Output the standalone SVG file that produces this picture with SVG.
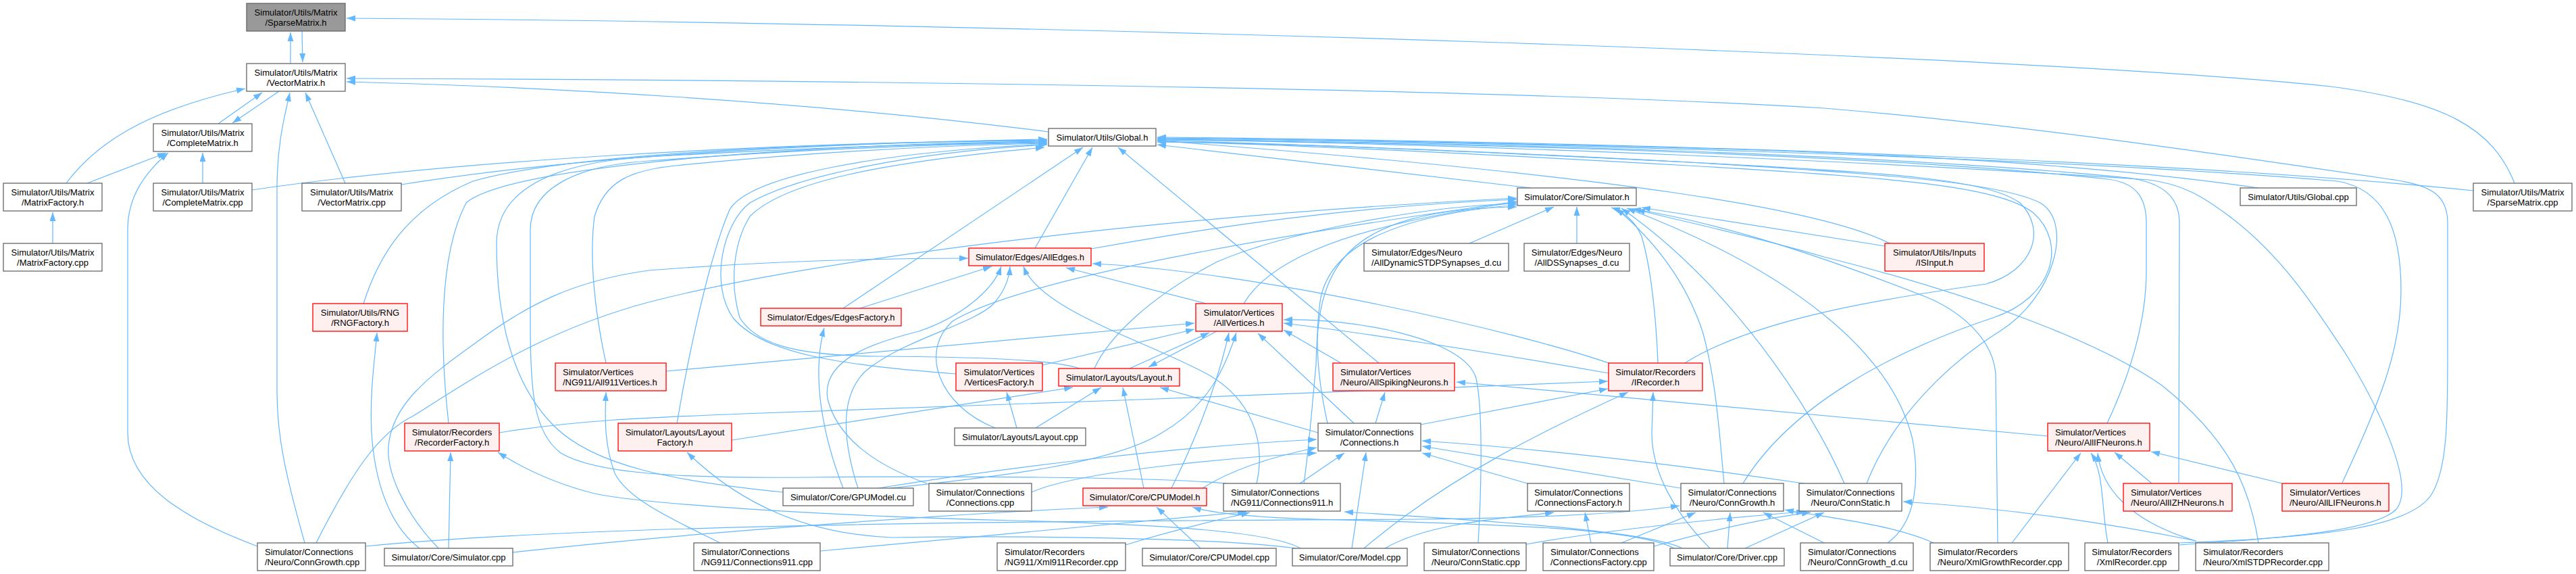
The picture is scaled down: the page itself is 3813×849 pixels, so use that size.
<svg xmlns="http://www.w3.org/2000/svg" width="3813" height="849" viewBox="0 0 3813 849">
<style>
rect{stroke-width:1.3}
.w rect{fill:#fff;stroke:#666}
.r rect{fill:#fff0f0;stroke:#ff0000}
.g rect{fill:#999999;stroke:#666}
text{font-family:"Liberation Sans",Arial,Helvetica,sans-serif;font-size:13px;fill:#000}
.c{text-anchor:middle}
#edges path{fill:none;stroke:#63b8ff;stroke-width:1.2;marker-end:url(#a)}
</style>
<defs>
<marker id="a" viewBox="0 0 13 9" refX="13" refY="4.5" markerWidth="13" markerHeight="9" markerUnits="userSpaceOnUse" orient="auto"><path d="M0,0 L13,4.5 L0,9 z" fill="#63b8ff"/></marker>
</defs>
<rect width="3813" height="849" fill="#fff"/>
<g id="edges">
<path d="M430,94 L430,48"/>
<path d="M447,46 L448,92"/>
<path d="M323,183 L388,137"/>
<path d="M413,135 L344,182"/>
<path d="M98,271 C140,215 210,165 363,131"/>
<path d="M129,271 L246,226"/>
<path d="M300,271 L300,226"/>
<path d="M511,271 L452,137"/>
<path d="M78,360 L78,314"/>
<path d="M381,808 C280,770 189,720 189,640 L189,340 C189,290 215,255 249,226"/>
<path d="M451,803 C425,710 410,650 410,580 L410,280 C410,210 422,170 429,137"/>
<path d="M3722,271 C3690,190 3620,150 3450,128 C3000,80 1500,33 513,27"/>
<path d="M1552,195 C1200,150 800,128 513,121"/>
<path d="M3226,803 C3440,795 3570,780 3600,730 C3623,690 3623,620 3623,520 L3623,330 C3623,290 3600,275 3550,267 C3300,230 3000,185 2700,160 C2200,130 1200,118 513,116"/>
<path d="M373,281 C650,240 1100,212 1550,207"/>
<path d="M594,273 C850,232 1200,212 1550,206"/>
<path d="M538,449 C560,380 600,310 700,268 C850,225 1250,210 1550,208"/>
<path d="M664,626 C652,520 648,380 690,300 C760,240 1250,212 1550,209"/>
<path d="M1159,728 C1000,712 880,690 820,630 C750,560 735,450 735,360 C735,280 820,240 960,232 C1200,218 1400,212 1550,210"/>
<path d="M1815,715 C1700,705 1400,704 1200,706 C1000,708 880,700 830,670 C790,640 785,580 785,480 L785,340 C785,280 850,245 960,238 C1200,220 1400,213 1550,211"/>
<path d="M897,537 C880,460 872,380 880,320 C895,270 930,252 1000,245 C1200,225 1400,215 1550,212"/>
<path d="M1002,626 C1020,520 1050,380 1080,310 C1110,260 1300,225 1550,213"/>
<path d="M1415,553 C1250,540 1130,525 1085,470 C1050,420 1070,330 1110,300 C1180,260 1350,225 1550,214"/>
<path d="M1598,545 C1560,532 1450,528 1300,527 C1180,526 1120,510 1095,470 C1080,420 1085,360 1110,320 C1160,270 1300,240 1546,218"/>
<path d="M1248,456 L1603,218"/>
<path d="M1532,367 L1617,218"/>
<path d="M2041,537 L1655,218"/>
<path d="M2266,278 L1713,214"/>
<path d="M3343,278 C3150,250 2900,232 2600,222 C2200,210 1900,206 1713,205"/>
<path d="M3661,282 C3300,245 2600,212 1713,203"/>
<path d="M3119,626 C3150,560 3177,480 3177,400 L3177,330 C3177,290 3160,270 3120,265 C2800,230 2200,212 1713,207"/>
<path d="M3225,714 L3226,330 C3226,290 3200,270 3150,263 C2800,228 2200,211 1713,206"/>
<path d="M3467,714 C3520,600 3554,520 3554,430 C3554,340 3530,280 3460,268 C3000,230 2200,210 1713,204"/>
<path d="M3226,806 C3380,796 3520,785 3548,752 C3575,715 3520,600 3470,520 C3430,460 3380,380 3300,320 C3260,290 3230,272 3180,266 C2800,240 2200,214 1713,206"/>
<path d="M2797,360 C2700,310 2400,260 1713,208"/>
<path d="M2494,537 C2600,470 2800,440 2940,420 C3010,400 3030,340 2990,300 C2940,265 2800,255 2500,240 C2200,225 1900,212 1713,208"/>
<path d="M2580,715 C2650,600 2800,520 2950,470 C3040,440 3060,360 3010,315 C2960,275 2800,262 2500,245 C2200,228 1900,214 1713,209"/>
<path d="M2763,715 C2800,620 2880,540 2960,490 C3040,440 3070,330 3020,300 C2960,270 2800,258 2500,240 C2200,224 1900,212 1713,210"/>
<path d="M1615,368 C1800,335 2000,305 2245,295"/>
<path d="M1841,449 C1870,400 1950,340 2245,299"/>
<path d="M1620,545 C1640,500 1700,440 1802,387 C1900,345 2100,305 2245,301"/>
<path d="M468,803 C520,700 560,640 612,615 C700,560 800,490 960,447 C1200,385 1700,320 2245,293"/>
<path d="M1965,626 C1950,560 1945,500 1955,440 C1970,370 2050,320 2245,303"/>
<path d="M1930,715 C1938,660 1942,600 1948,540 C1950,400 1980,310 2245,306"/>
<path d="M1473,633 C1390,600 1360,520 1410,475 C1500,420 1800,360 2245,298"/>
<path d="M2175,360 L2300,306"/>
<path d="M2334,360 L2334,306"/>
<path d="M2790,364 L2430,307"/>
<path d="M2454,537 C2452,480 2445,400 2430,350 C2420,325 2400,312 2385,307"/>
<path d="M2552,715 C2545,640 2540,560 2520,490 C2490,400 2430,340 2392,308"/>
<path d="M2730,715 C2680,600 2560,420 2400,308"/>
<path d="M2794,803 C2840,770 2840,700 2831,650 C2800,520 2650,400 2408,308"/>
<path d="M2957,803 C2955,700 2954,600 2954,553 C2950,500 2900,460 2853,440 C2700,380 2550,330 2416,309"/>
<path d="M3343,803 C3330,720 3300,650 3200,570 C3100,500 2900,430 2700,380 C2600,350 2500,330 2422,310"/>
<path d="M649,811 C600,760 572,700 575,660 C580,600 630,560 700,510 C780,450 850,415 960,400 C1150,385 1300,382 1433,382"/>
<path d="M1273,456 L1468,394"/>
<path d="M1372,715 C1300,690 1240,650 1225,590 C1215,530 1300,505 1360,490 C1420,470 1470,430 1482,394"/>
<path d="M1270,722 C1250,660 1240,590 1280,550 C1330,505 1440,480 1470,450 C1488,430 1494,410 1495,394"/>
<path d="M1860,715 C1875,650 1850,590 1790,555 C1700,505 1540,460 1515,394"/>
<path d="M1785,449 L1578,396"/>
<path d="M2390,540 C2250,490 1850,400 1617,390"/>
<path d="M1672,545 L1790,492"/>
<path d="M1801,490 L1700,543"/>
<path d="M1543,540 L1768,487"/>
<path d="M986,549 L1768,478"/>
<path d="M1734,722 C1760,670 1800,580 1819,492"/>
<path d="M1317,722 C1480,705 1650,685 1720,640 C1790,600 1815,540 1830,492"/>
<path d="M2004,626 L1862,493"/>
<path d="M1985,537 L1900,488"/>
<path d="M2381,552 C2200,520 2000,490 1900,478"/>
<path d="M2188,803 C2194,700 2194,600 2185,560 C2170,500 2000,470 1900,473"/>
<path d="M1083,651 L1588,573"/>
<path d="M1533,633 L1630,573"/>
<path d="M1693,722 L1662,573"/>
<path d="M1951,640 L1717,573"/>
<path d="M1505,633 L1490,580"/>
<path d="M1248,722 C1220,650 1200,560 1220,485"/>
<path d="M621,811 C580,780 555,720 550,640 C547,580 555,530 558,492"/>
<path d="M664,811 L667,669"/>
<path d="M1925,811 C1880,785 1700,775 1500,770 C1200,762 950,745 880,730 C820,715 770,690 737,669"/>
<path d="M1918,811 C1800,795 1500,792 1320,795 C1200,790 1100,750 1017,669"/>
<path d="M739,640 C850,622 950,618 1100,612 C1500,598 2000,580 2380,564"/>
<path d="M2103,628 L2380,575"/>
<path d="M2019,811 C2150,700 2300,630 2410,580"/>
<path d="M2531,811 C2480,760 2445,700 2445,640 L2447,580"/>
<path d="M3031,645 C2800,625 2500,595 2156,565"/>
<path d="M2036,626 L2050,580"/>
<path d="M1924,715 L1990,670"/>
<path d="M2264,716 L2105,670"/>
<path d="M2488,722 L2105,660"/>
<path d="M2670,715 C2500,690 2300,665 2105,652"/>
<path d="M2001,811 L2022,669"/>
<path d="M1527,728 C1600,695 1850,675 1949,670"/>
<path d="M1300,722 C1500,690 1750,660 1949,650"/>
<path d="M1780,722 C1830,690 1900,672 1949,662"/>
<path d="M1777,811 L1712,750"/>
<path d="M759,817 C1000,790 1400,760 1640,750"/>
<path d="M2478,811 C2420,780 2200,775 1950,768 C1850,765 1790,758 1765,750"/>
<path d="M1214,815 C1500,790 1700,770 1845,757"/>
<path d="M1666,806 C1750,780 1800,770 1850,758"/>
<path d="M2490,811 C2440,785 2200,770 1990,757"/>
<path d="M2355,803 L2346,758"/>
<path d="M2050,811 C2120,770 2250,765 2300,758"/>
<path d="M541,808 C900,772 1700,770 2100,768 C2300,766 2420,758 2486,748"/>
<path d="M2700,803 L2610,758"/>
<path d="M2400,803 L2510,758"/>
<path d="M2557,811 L2561,758"/>
<path d="M2862,803 C2800,775 2700,765 2642,754"/>
<path d="M2448,808 C2550,780 2620,765 2680,758"/>
<path d="M2583,811 L2700,758"/>
<path d="M2259,805 C2400,780 2600,762 2672,757"/>
<path d="M3251,800 C3100,770 2950,750 2817,742"/>
<path d="M3185,715 L3130,669"/>
<path d="M3378,715 L3184,668"/>
<path d="M2978,803 L3080,670"/>
<path d="M3120,803 C3110,750 3115,700 3095,670"/>
<path d="M3250,800 C3150,770 3110,720 3105,670"/>
<path d="M1066,803 C1000,770 930,740 910,700 C895,660 895,620 897,580"/>
</g>
<g id="n_SM_h" class="g"><rect x="365" y="5" width="146" height="41"/><text class="c" x="438" y="22.5">Simulator/Utils/Matrix</text><text class="c" x="438" y="37.5">/SparseMatrix.h</text></g>
<g id="n_VM_h" class="w"><rect x="365" y="94" width="146" height="41"/><text class="c" x="438" y="111.5">Simulator/Utils/Matrix</text><text class="c" x="438" y="126.5">/VectorMatrix.h</text></g>
<g id="n_CM_h" class="w"><rect x="227" y="183" width="146" height="41"/><text class="c" x="300" y="200.5">Simulator/Utils/Matrix</text><text class="c" x="300" y="215.5">/CompleteMatrix.h</text></g>
<g id="n_MF_h" class="w"><rect x="5" y="271" width="146" height="41"/><text class="c" x="78" y="288.5">Simulator/Utils/Matrix</text><text class="c" x="78" y="303.5">/MatrixFactory.h</text></g>
<g id="n_CM_cpp" class="w"><rect x="227" y="271" width="146" height="41"/><text class="c" x="300" y="288.5">Simulator/Utils/Matrix</text><text class="c" x="300" y="303.5">/CompleteMatrix.cpp</text></g>
<g id="n_VM_cpp" class="w"><rect x="447" y="271" width="147" height="41"/><text class="c" x="520.5" y="288.5">Simulator/Utils/Matrix</text><text class="c" x="520.5" y="303.5">/VectorMatrix.cpp</text></g>
<g id="n_MF_cpp" class="w"><rect x="5" y="360" width="146" height="41"/><text class="c" x="78" y="377.5">Simulator/Utils/Matrix</text><text class="c" x="78" y="392.5">/MatrixFactory.cpp</text></g>
<g id="n_Global_h" class="w"><rect x="1552" y="190" width="159" height="26"/><text class="c" x="1631.5" y="207.5">Simulator/Utils/Global.h</text></g>
<g id="n_Sim_h" class="w"><rect x="2246" y="278" width="176" height="26"/><text class="c" x="2334" y="295.5">Simulator/Core/Simulator.h</text></g>
<g id="n_Global_cpp" class="w"><rect x="3316" y="278" width="172" height="26"/><text class="c" x="3402" y="295.5">Simulator/Utils/Global.cpp</text></g>
<g id="n_SM_cpp" class="w"><rect x="3661" y="271" width="146" height="41"/><text class="c" x="3734" y="288.5">Simulator/Utils/Matrix</text><text class="c" x="3734" y="303.5">/SparseMatrix.cpp</text></g>
<g id="n_AllEdges_h" class="r"><rect x="1434" y="367" width="181" height="26"/><text class="c" x="1524.5" y="384.5">Simulator/Edges/AllEdges.h</text></g>
<g id="n_DSTDP_cu" class="w"><rect x="2019" y="360" width="214" height="41"/><text x="2030" y="377.5">Simulator/Edges/Neuro</text><text x="2030" y="392.5">/AllDynamicSTDPSynapses_d.cu</text></g>
<g id="n_DS_cu" class="w"><rect x="2256" y="360" width="156" height="41"/><text class="c" x="2334" y="377.5">Simulator/Edges/Neuro</text><text class="c" x="2334" y="392.5">/AllDSSynapses_d.cu</text></g>
<g id="n_ISInput_h" class="r"><rect x="2790" y="360" width="147" height="41"/><text class="c" x="2863.5" y="377.5">Simulator/Utils/Inputs</text><text class="c" x="2863.5" y="392.5">/ISInput.h</text></g>
<g id="n_RNG_h" class="r"><rect x="463" y="449" width="140" height="41"/><text class="c" x="533" y="466.5">Simulator/Utils/RNG</text><text class="c" x="533" y="481.5">/RNGFactory.h</text></g>
<g id="n_EdgesFactory_h" class="r"><rect x="1126" y="456" width="208" height="26"/><text class="c" x="1230" y="473.5">Simulator/Edges/EdgesFactory.h</text></g>
<g id="n_AllVertices_h" class="r"><rect x="1770" y="449" width="128" height="41"/><text class="c" x="1834" y="466.5">Simulator/Vertices</text><text class="c" x="1834" y="481.5">/AllVertices.h</text></g>
<g id="n_All911V_h" class="r"><rect x="822" y="537" width="164" height="41"/><text x="833" y="554.5">Simulator/Vertices</text><text x="833" y="569.5">/NG911/All911Vertices.h</text></g>
<g id="n_VerticesFactory_h" class="r"><rect x="1415" y="537" width="128" height="41"/><text class="c" x="1479" y="554.5">Simulator/Vertices</text><text class="c" x="1479" y="569.5">/VerticesFactory.h</text></g>
<g id="n_Layout_h" class="r"><rect x="1567" y="545" width="179" height="26"/><text class="c" x="1656.5" y="562.5">Simulator/Layouts/Layout.h</text></g>
<g id="n_AllSpiking_h" class="r"><rect x="1973" y="537" width="180" height="41"/><text x="1984" y="554.5">Simulator/Vertices</text><text x="1984" y="569.5">/Neuro/AllSpikingNeurons.h</text></g>
<g id="n_IRecorder_h" class="r"><rect x="2381" y="537" width="139" height="41"/><text class="c" x="2450.5" y="554.5">Simulator/Recorders</text><text class="c" x="2450.5" y="569.5">/IRecorder.h</text></g>
<g id="n_RecorderFactory_h" class="r"><rect x="599" y="626" width="140" height="41"/><text class="c" x="669" y="643.5">Simulator/Recorders</text><text class="c" x="669" y="658.5">/RecorderFactory.h</text></g>
<g id="n_LayoutFactory_h" class="r"><rect x="915" y="626" width="168" height="41"/><text class="c" x="999" y="643.5">Simulator/Layouts/Layout</text><text class="c" x="999" y="658.5">Factory.h</text></g>
<g id="n_Layout_cpp" class="w"><rect x="1413" y="633" width="194" height="26"/><text class="c" x="1510" y="650.5">Simulator/Layouts/Layout.cpp</text></g>
<g id="n_Connections_h" class="w"><rect x="1951" y="626" width="152" height="41"/><text class="c" x="2027" y="643.5">Simulator/Connections</text><text class="c" x="2027" y="658.5">/Connections.h</text></g>
<g id="n_AllIF_h" class="r"><rect x="3031" y="626" width="151" height="41"/><text x="3042" y="643.5">Simulator/Vertices</text><text x="3042" y="658.5">/Neuro/AllIFNeurons.h</text></g>
<g id="n_GPUModel_cu" class="w"><rect x="1159" y="722" width="193" height="26"/><text class="c" x="1255.5" y="739.5">Simulator/Core/GPUModel.cu</text></g>
<g id="n_Connections_cpp" class="w"><rect x="1375" y="715" width="152" height="41"/><text class="c" x="1451" y="732.5">Simulator/Connections</text><text class="c" x="1451" y="747.5">/Connections.cpp</text></g>
<g id="n_CPUModel_h" class="r"><rect x="1603" y="722" width="183" height="26"/><text class="c" x="1694.5" y="739.5">Simulator/Core/CPUModel.h</text></g>
<g id="n_Conn911_h" class="w"><rect x="1811" y="715" width="173" height="41"/><text x="1822" y="732.5">Simulator/Connections</text><text x="1822" y="747.5">/NG911/Connections911.h</text></g>
<g id="n_ConnFactory_h" class="w"><rect x="2261" y="715" width="151" height="41"/><text class="c" x="2336.5" y="732.5">Simulator/Connections</text><text class="c" x="2336.5" y="747.5">/ConnectionsFactory.h</text></g>
<g id="n_ConnGrowth_h" class="w"><rect x="2488" y="715" width="152" height="41"/><text class="c" x="2564" y="732.5">Simulator/Connections</text><text class="c" x="2564" y="747.5">/Neuro/ConnGrowth.h</text></g>
<g id="n_ConnStatic_h" class="w"><rect x="2663" y="715" width="152" height="41"/><text class="c" x="2739" y="732.5">Simulator/Connections</text><text class="c" x="2739" y="747.5">/Neuro/ConnStatic.h</text></g>
<g id="n_AllIZH_h" class="r"><rect x="3143" y="715" width="161" height="41"/><text x="3154" y="732.5">Simulator/Vertices</text><text x="3154" y="747.5">/Neuro/AllIZHNeurons.h</text></g>
<g id="n_AllLIF_h" class="r"><rect x="3378" y="715" width="158" height="41"/><text x="3389" y="732.5">Simulator/Vertices</text><text x="3389" y="747.5">/Neuro/AllLIFNeurons.h</text></g>
<g id="n_ConnGrowth_cpp" class="w"><rect x="381" y="803" width="160" height="41"/><text x="392" y="820.5">Simulator/Connections</text><text x="392" y="835.5">/Neuro/ConnGrowth.cpp</text></g>
<g id="n_Simulator_cpp" class="w"><rect x="569" y="811" width="190" height="26"/><text class="c" x="664" y="828.5">Simulator/Core/Simulator.cpp</text></g>
<g id="n_Conn911_cpp" class="w"><rect x="1027" y="803" width="187" height="41"/><text x="1038" y="820.5">Simulator/Connections</text><text x="1038" y="835.5">/NG911/Connections911.cpp</text></g>
<g id="n_Xml911_cpp" class="w"><rect x="1476" y="803" width="190" height="41"/><text x="1487" y="820.5">Simulator/Recorders</text><text x="1487" y="835.5">/NG911/Xml911Recorder.cpp</text></g>
<g id="n_CPUModel_cpp" class="w"><rect x="1691" y="811" width="198" height="26"/><text class="c" x="1790" y="828.5">Simulator/Core/CPUModel.cpp</text></g>
<g id="n_Model_cpp" class="w"><rect x="1913" y="811" width="170" height="26"/><text class="c" x="1998" y="828.5">Simulator/Core/Model.cpp</text></g>
<g id="n_ConnStatic_cpp" class="w"><rect x="2108" y="803" width="151" height="41"/><text x="2119" y="820.5">Simulator/Connections</text><text x="2119" y="835.5">/Neuro/ConnStatic.cpp</text></g>
<g id="n_ConnFactory_cpp" class="w"><rect x="2284" y="803" width="164" height="41"/><text x="2295" y="820.5">Simulator/Connections</text><text x="2295" y="835.5">/ConnectionsFactory.cpp</text></g>
<g id="n_Driver_cpp" class="w"><rect x="2472" y="811" width="169" height="26"/><text class="c" x="2556.5" y="828.5">Simulator/Core/Driver.cpp</text></g>
<g id="n_ConnGrowth_d_cu" class="w"><rect x="2665" y="803" width="167" height="41"/><text x="2676" y="820.5">Simulator/Connections</text><text x="2676" y="835.5">/Neuro/ConnGrowth_d.cu</text></g>
<g id="n_XmlGrowth_cpp" class="w"><rect x="2857" y="803" width="205" height="41"/><text x="2868" y="820.5">Simulator/Recorders</text><text x="2868" y="835.5">/Neuro/XmlGrowthRecorder.cpp</text></g>
<g id="n_XmlRecorder_cpp" class="w"><rect x="3086" y="803" width="139" height="41"/><text class="c" x="3155.5" y="820.5">Simulator/Recorders</text><text class="c" x="3155.5" y="835.5">/XmlRecorder.cpp</text></g>
<g id="n_XmlSTDP_cpp" class="w"><rect x="3250" y="803" width="197" height="41"/><text x="3261" y="820.5">Simulator/Recorders</text><text x="3261" y="835.5">/Neuro/XmlSTDPRecorder.cpp</text></g>
</svg>
